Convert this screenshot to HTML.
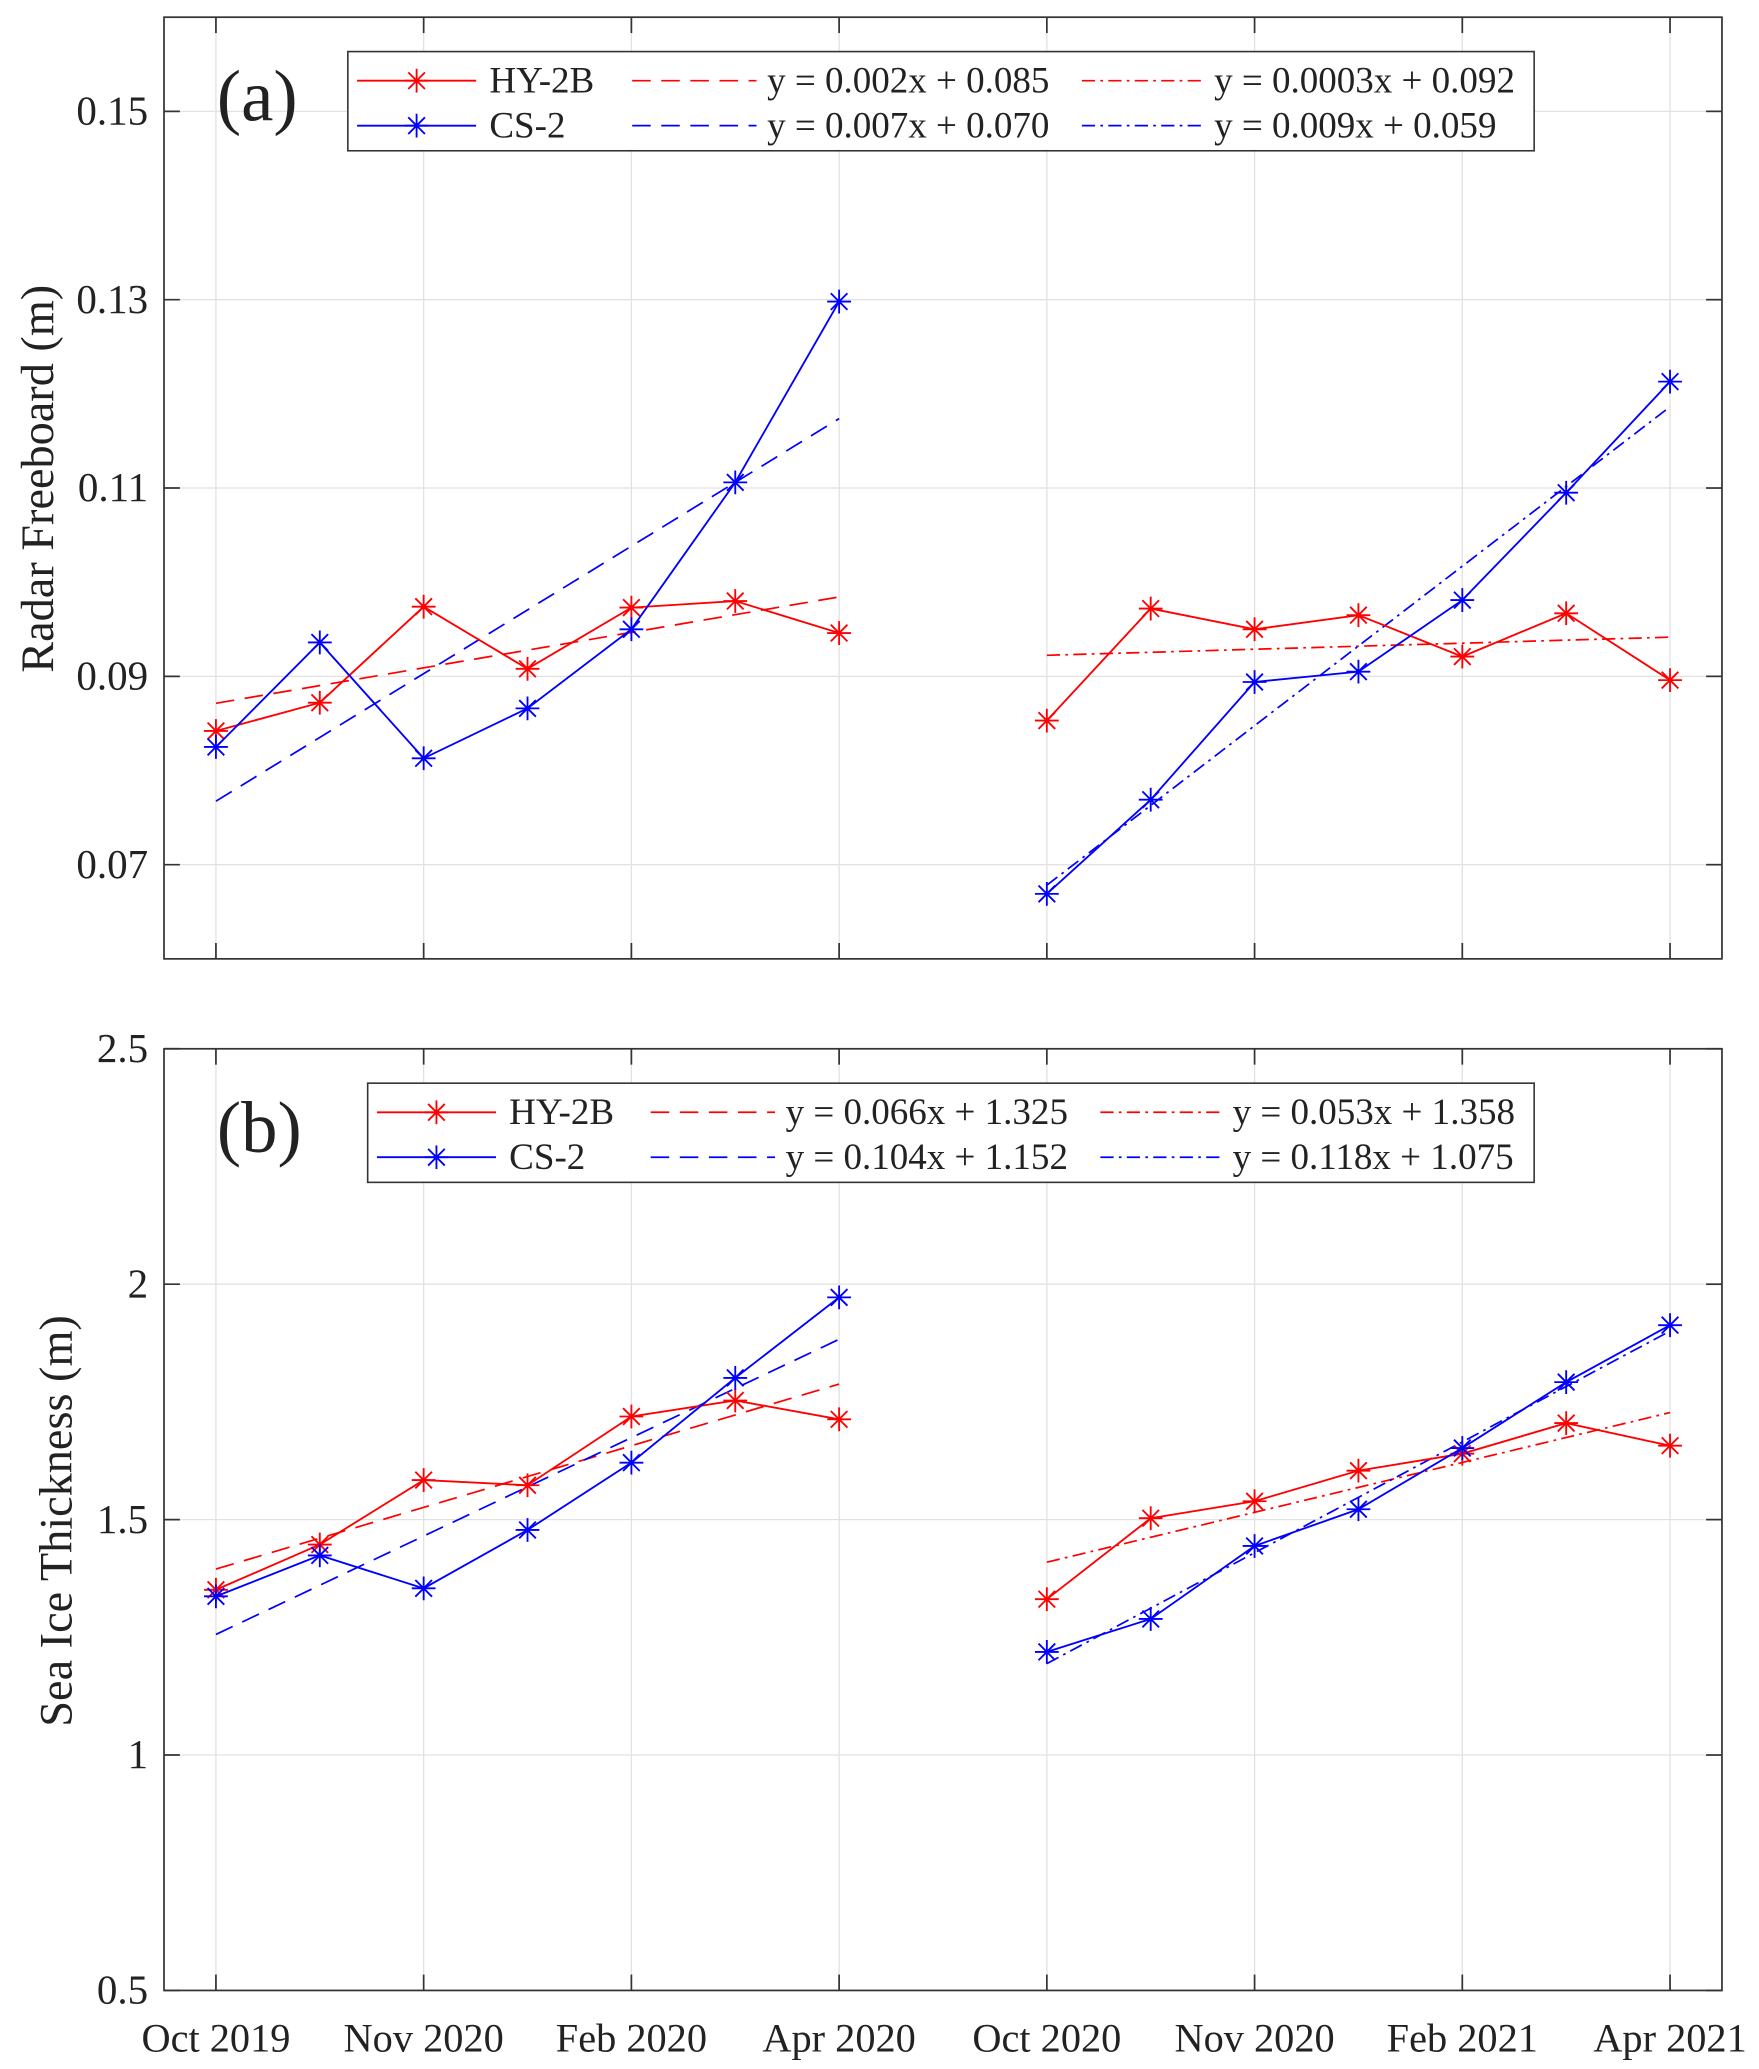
<!DOCTYPE html>
<html><head><meta charset="utf-8"><style>
html,body{margin:0;padding:0;background:#fff}
svg{display:block}
text{font-family:"Liberation Serif",serif;fill:#222}
</style></head><body>
<svg id="chart" width="1759" height="2069" viewBox="0 0 1330 1564.4" xmlns="http://www.w3.org/2000/svg"></svg>
<script>
// ---- data ----
const xTickLabels = ["Oct 2019","Nov 2020","Feb 2020","Apr 2020","Oct 2020","Nov 2020","Feb 2021","Apr 2021"];
const xTickIdx = [0,2,4,6,8,10,12,14];
const leftIdx = [0,1,2,3,4,5,6];
const rightIdx = [8,9,10,11,12,13,14];
const fbHyLeft = [0.0842,0.0872,0.0974,0.0908,0.0973,0.0980,0.0946];
const fbCsLeft = [0.0825,0.0936,0.0813,0.0866,0.0950,0.1106,0.1298];
const fbHyRight = [0.0853,0.0972,0.0950,0.0965,0.0921,0.0967,0.0896];
const fbCsRight = [0.0669,0.0769,0.0894,0.0905,0.0981,0.1095,0.1213];
const thHyLeft = [1.351,1.447,1.584,1.573,1.719,1.753,1.713];
const thCsLeft = [1.337,1.424,1.354,1.478,1.621,1.801,1.972];
const thHyRight = [1.331,1.503,1.539,1.604,1.640,1.705,1.657];
const thCsRight = [1.219,1.289,1.444,1.522,1.652,1.792,1.913];
const fbYTicks = [0.07,0.09,0.11,0.13,0.15];
const thYTicks = [0.5,1,1.5,2,2.5];
const fbLegendEq = ["y = 0.002x + 0.085","y = 0.0003x + 0.092","y = 0.007x + 0.070","y = 0.009x + 0.059"];
const thLegendEq = ["y = 0.066x + 1.325","y = 0.053x + 1.358","y = 0.104x + 1.152","y = 0.118x + 1.075"];

const NS="http://www.w3.org/2000/svg";
const svg=document.getElementById('chart');
function mk(tag,attrs,parent){const e=document.createElementNS(NS,tag);for(const k in attrs)e.setAttribute(k,attrs[k]);(parent||svg).appendChild(e);return e;}

function fit(xs,ys){const n=xs.length;let sx=0,sy=0,sxx=0,sxy=0;for(let i=0;i<n;i++){sx+=xs[i];sy+=ys[i];sxx+=xs[i]*xs[i];sxy+=xs[i]*ys[i];}const b=(n*sxy-sx*sy)/(n*sxx-sx*sx);return [b,(sy-b*sx)/n];}

function panel(cfg){
  const L=124,R=1302,T=cfg.top,B=cfg.bottom;
  const g=mk('g',{});
  
  
  const xs=v=>L+(v+0.5)/15*(R-L);
  const ys=v=>B-(v-cfg.ymin)/(cfg.ymax-cfg.ymin)*(B-T);
  xTickIdx.forEach(i=>{const l=mk('line',{x1:xs(i),x2:xs(i),y1:T,y2:B,stroke:'#e2e2e2','stroke-width':1},g);
    });
  cfg.yticks.forEach(v=>{const l=mk('line',{x1:L,x2:R,y1:ys(v),y2:ys(v),stroke:'#e2e2e2','stroke-width':1},g);
    });
  const box=mk('rect',{x:L,y:T,width:R-L,height:B-T,fill:'none',stroke:'#333','stroke-width':1.3},g);
  
  xTickIdx.forEach((i,k)=>{
    mk('line',{x1:xs(i),x2:xs(i),y1:B,y2:B-12,stroke:'#333','stroke-width':1.3},g);
    mk('line',{x1:xs(i),x2:xs(i),y1:T,y2:T+12,stroke:'#333','stroke-width':1.3},g);
    if(cfg.xlabels){const t=mk('text',{x:xs(i),y:B+46,'text-anchor':'middle','font-size':30.5},g);t.textContent=xTickLabels[k];
      }
  });
  cfg.yticks.forEach(v=>{
    mk('line',{x1:L,x2:L+12,y1:ys(v),y2:ys(v),stroke:'#333','stroke-width':1.3},g);
    mk('line',{x1:R,x2:R-12,y1:ys(v),y2:ys(v),stroke:'#333','stroke-width':1.3},g);
    const t=mk('text',{x:L-12,y:ys(v)+10,'text-anchor':'end','font-size':31},g);t.textContent=cfg.fmt(v);
    
  });
  const yt=mk('text',{x:0,y:0,'text-anchor':'middle','font-size':cfg.titleSize,transform:`translate(${cfg.titleX},${cfg.titleY}) rotate(-90)`},g);
  yt.textContent=cfg.title;
  const pl=mk('text',{x:164,y:T+78,'font-size':55},g);pl.textContent=cfg.label;
  
  cfg.series.forEach(s=>{
    const xx=s.idx.map((_,i)=>i+1);const [b,a]=fit(xx,s.vals);
    const f=mk('line',{x1:xs(s.idx[0]),y1:ys(a+b*1),x2:xs(s.idx[s.idx.length-1]),y2:ys(a+b*s.idx.length),stroke:s.color,'stroke-width':1.3,'stroke-dasharray':s.dash},g);
    
  });
  cfg.series.forEach(s=>{
    const p=mk('polyline',{points:s.idx.map((x,i)=>xs(x)+','+ys(s.vals[i])).join(' '),fill:'none',stroke:s.color,'stroke-width':1.4},g);
    
    s.idx.forEach((x,i)=>{star(g,xs(x),ys(s.vals[i]),s.color);});
  });
  const lg=mk('g',{},g);
  
  const lb=cfg.legend;
  mk('rect',{x:lb.x,y:lb.y,width:1160-lb.x,height:75,fill:'#fff',stroke:'#333','stroke-width':1.2},lg);
  const rows=[[lb.y+22,'#f00','HY-2B',cfg.eq[0],cfg.eq[1]],[lb.y+56,'#00f','CS-2',cfg.eq[2],cfg.eq[3]]];
  rows.forEach(r=>{
    const x0=lb.x+7;
    mk('line',{x1:x0,x2:x0+90,y1:r[0],y2:r[0],stroke:r[1],'stroke-width':1.4},lg);
    star(lg,x0+45,r[0],r[1]);
    let t=mk('text',{x:x0+100,y:r[0]+9,'font-size':28},lg);t.textContent=r[2];
    
    mk('line',{x1:lb.c2,x2:lb.c2+94,y1:r[0],y2:r[0],stroke:r[1],'stroke-width':1.3,'stroke-dasharray':'14 8'},lg);
    t=mk('text',{x:lb.c2+102,y:r[0]+9,'font-size':28},lg);t.textContent=r[3];
    
    mk('line',{x1:lb.c3,x2:lb.c3+94,y1:r[0],y2:r[0],stroke:r[1],'stroke-width':1.3,'stroke-dasharray':'10 4 2 4'},lg);
    t=mk('text',{x:lb.c3+100,y:r[0]+9,'font-size':28},lg);t.textContent=r[4];
    
  });
}
function star(g,x,y,c){
  const s=9,d=s*0.7;
  const p=mk('path',{d:`M${x-s} ${y}H${x+s}M${x} ${y-s}V${y+s}M${x-d} ${y-d}L${x+d} ${y+d}M${x-d} ${y+d}L${x+d} ${y-d}`,stroke:c,'stroke-width':1.4,fill:'none'},g);
  
}
panel({name:'panel-a-freeboard',top:13,bottom:725,ymin:0.06,ymax:0.16,yticks:fbYTicks,fmt:v=>v.toFixed(2),
  title:'Radar Freeboard (m)',titleX:40,titleY:362,titleSize:35,label:'(a)',xlabels:false,eq:fbLegendEq,
  legend:{x:263,y:39,c2:478,c3:818},
  series:[{idx:leftIdx,vals:fbHyLeft,color:'#f00',dash:'14 8'},{idx:leftIdx,vals:fbCsLeft,color:'#00f',dash:'14 8'},
          {idx:rightIdx,vals:fbHyRight,color:'#f00',dash:'10 4 2 4'},{idx:rightIdx,vals:fbCsRight,color:'#00f',dash:'10 4 2 4'}]});
panel({name:'panel-b-thickness',top:793,bottom:1505,ymin:0.5,ymax:2.5,yticks:thYTicks,fmt:v=>String(v),
  title:'Sea Ice Thickness (m)',titleX:54,titleY:1150,titleSize:35,label:'(b)',xlabels:true,eq:thLegendEq,
  legend:{x:278,y:819,c2:492,c3:832},
  series:[{idx:leftIdx,vals:thHyLeft,color:'#f00',dash:'14 8'},{idx:leftIdx,vals:thCsLeft,color:'#00f',dash:'14 8'},
          {idx:rightIdx,vals:thHyRight,color:'#f00',dash:'10 4 2 4'},{idx:rightIdx,vals:thCsRight,color:'#00f',dash:'10 4 2 4'}]});
</script>
</body></html>
